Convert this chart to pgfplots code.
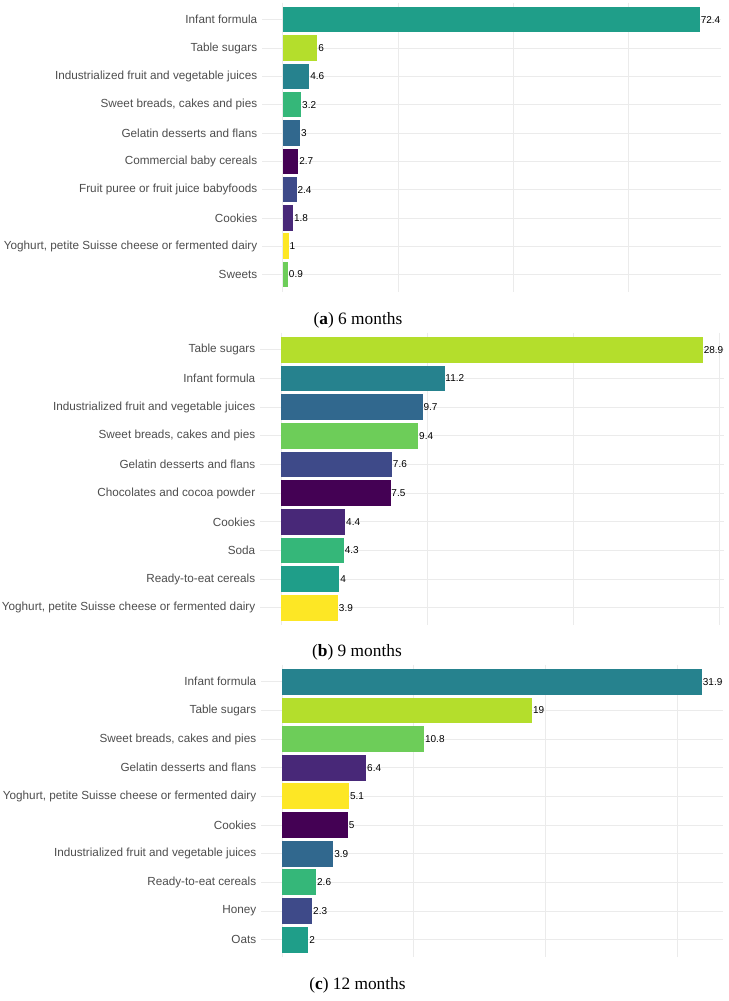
\documentclass[border=0pt]{standalone}
\usepackage{pgfplots}
\pgfplotsset{compat=1.18}
\usepackage{fontspec}
\setmainfont{Liberation Sans}
\newfontfamily\capfont{Liberation Serif}
\definecolor{va}{HTML}{440154}
\definecolor{vb}{HTML}{482878}
\definecolor{vc}{HTML}{3E4A89}
\definecolor{vd}{HTML}{31688E}
\definecolor{ve}{HTML}{26828E}
\definecolor{vf}{HTML}{1F9E89}
\definecolor{vg}{HTML}{35B779}
\definecolor{vh}{HTML}{6DCD59}
\definecolor{vi}{HTML}{B4DE2C}
\definecolor{vj}{HTML}{FDE725}
\definecolor{lab}{HTML}{4D4D4D}
\definecolor{gridc}{HTML}{EBEBEB}
\newcommand{\hb}[3]{\addplot[fill=#1, draw=none] coordinates {(#2,#3) [#2]};}
\pgfplotsset{
  panel/.style={
    scale only axis,
    anchor=north west,
    xbar, bar width=0.9, bar shift=0pt,
    y dir=reverse,
    ymin=-0.6, ymax=9.6,
    ytick={0,...,9},
    axis line style={draw=none},
    major tick length=0pt,
    tick style={draw=none},
    xmajorgrids, ymajorgrids,
    grid style={gridc, line width=0.6pt},
    xticklabel style={text opacity=0},
    yticklabel style={font=\fontsize{8.8}{10}\selectfont, text=lab, anchor=east, inner sep=0pt, xshift=-3.4pt},
    point meta=explicit symbolic,
    nodes near coords,
    nodes near coords style={font=\fontsize{7.5}{8}\selectfont, text=black, anchor=west, inner sep=0.5pt},
    clip=false,
  }
}
\begin{document}
\begin{tikzpicture}
\path[use as bounding box] (0pt,0pt) rectangle (546.75pt,-750.75pt);
% (a) 6 months
\begin{axis}[panel, at={(196.5pt,-2.03pt)}, width=344pt, height=216.6pt,
  xmin=-3.62, xmax=76.02, xtick={0,20,40,60},
  yticklabels={Infant formula, Table sugars, Industrialized fruit and vegetable juices, {Sweet breads, cakes and pies}, Gelatin desserts and flans, Commercial baby cereals, Fruit puree or fruit juice babyfoods, Cookies, {Yoghurt, petite Suisse cheese or fermented dairy}, Sweets}]
\hb{vf}{72.4}{0}
\hb{vi}{6}{1}
\hb{ve}{4.6}{2}
\hb{vg}{3.2}{3}
\hb{vd}{3}{4}
\hb{va}{2.7}{5}
\hb{vc}{2.4}{6}
\hb{vb}{1.8}{7}
\hb{vj}{1}{8}
\hb{vh}{0.9}{9}
\end{axis}
\node[font=\capfont\fontsize{13}{15}\selectfont] at (268.5pt,-240pt) {(\textbf{a}) 6 months};
% (b) 9 months
\begin{axis}[panel, at={(195pt,-249.4pt)}, width=348pt, height=219.4pt,
  xmin=-1.445, xmax=30.345, xtick={0,10,20,30},
  yticklabels={Table sugars, Infant formula, Industrialized fruit and vegetable juices, {Sweet breads, cakes and pies}, Gelatin desserts and flans, Chocolates and cocoa powder, Cookies, Soda, Ready-to-eat cereals, {Yoghurt, petite Suisse cheese or fermented dairy}}]
\hb{vi}{28.9}{0}
\hb{ve}{11.2}{1}
\hb{vd}{9.7}{2}
\hb{vh}{9.4}{3}
\hb{vc}{7.6}{4}
\hb{va}{7.5}{5}
\hb{vb}{4.4}{6}
\hb{vg}{4.3}{7}
\hb{vf}{4}{8}
\hb{vj}{3.9}{9}
\end{axis}
\node[font=\capfont\fontsize{13}{15}\selectfont] at (267.75pt,-489pt) {(\textbf{b}) 9 months};
% (c) 12 months
\begin{axis}[panel, at={(195.75pt,-498.4pt)}, width=346.5pt, height=219.2pt,
  xmin=-1.595, xmax=33.495, xtick={0,10,20,30},
  yticklabels={Infant formula, Table sugars, {Sweet breads, cakes and pies}, Gelatin desserts and flans, {Yoghurt, petite Suisse cheese or fermented dairy}, Cookies, Industrialized fruit and vegetable juices, Ready-to-eat cereals, Honey, Oats}]
\hb{ve}{31.9}{0}
\hb{vi}{19}{1}
\hb{vh}{10.8}{2}
\hb{vb}{6.4}{3}
\hb{vj}{5.1}{4}
\hb{va}{5}{5}
\hb{vd}{3.9}{6}
\hb{vg}{2.6}{7}
\hb{vc}{2.3}{8}
\hb{vf}{2}{9}
\end{axis}
\node[font=\capfont\fontsize{13}{15}\selectfont] at (268.1pt,-738.75pt) {(\textbf{c}) 12 months};
\end{tikzpicture}
\end{document}
